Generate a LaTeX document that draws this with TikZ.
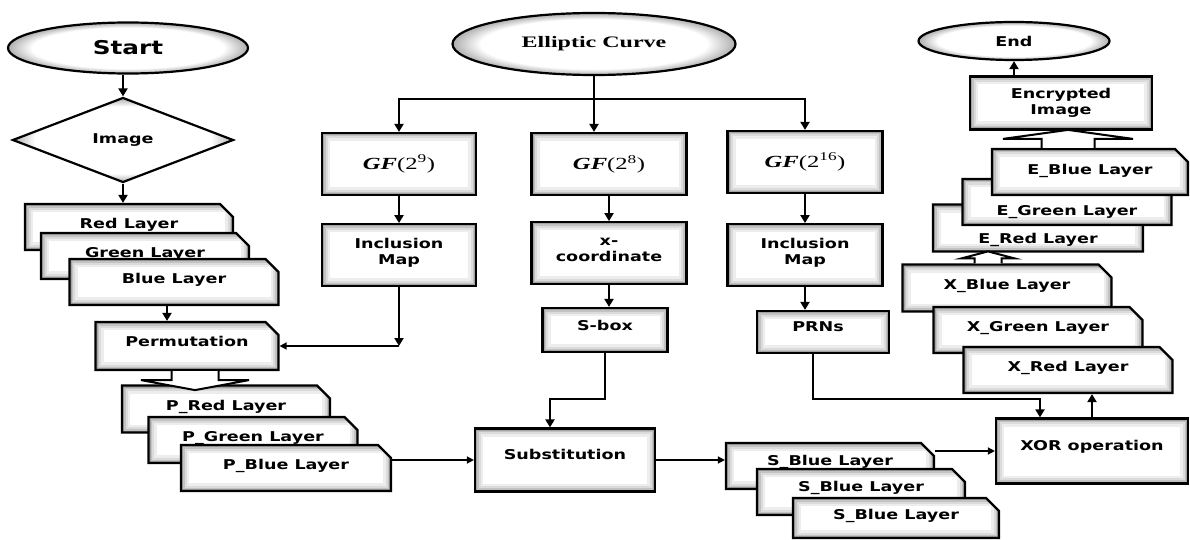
\documentclass[tikz,border=0pt]{standalone}
\usepackage{fontspec}
\usepackage{tikz}
\usetikzlibrary{positioning,arrows.meta,shapes.geometric,shapes.misc}
\newfontfamily\boxfont[FakeStretch=1.3]{DejaVu Sans}
\newfontfamily\ecfont[FakeStretch=1.5]{Liberation Serif}
\newfontfamily\gffont[FakeStretch=1.45]{Liberation Serif}
\newcommand{\gflabel}[1]{{\gffont\mdseries\fontsize{17}{20}\selectfont\textbf{\textit{GF}}(2\textsuperscript{#1})}}
\pgfdeclareradialshading{glow}{\pgfpointorigin}{color(0bp)=(white); color(20bp)=(white); color(25bp)=(black!32); color(50bp)=(black!32)}

\begin{document}
\begin{tikzpicture}[x=1pt, y=-1pt,
    every node/.style={font=\boxfont\bfseries\fontsize{13.5}{16}\selectfont},
    box/.style={draw, line width=2.2pt, fill=white, align=center, inner sep=2pt,
      path picture={
        \foreach \w/\c in {16/7, 11/14, 7/24, 4/36}
          \draw[line width=\w pt, black!\c] (path picture bounding box.south west) rectangle (path picture bounding box.north east);
      }},
    oval/.style={draw, line width=2.2pt, shade, shading=glow, ellipse, inner sep=2pt},
    layer/.style={box, chamfered rectangle, chamfered rectangle corners=north east, chamfered rectangle xsep=7pt, chamfered rectangle ysep=6pt, minimum width=208pt, minimum height=46pt, text depth=8pt},
    gf/.style={box, minimum width=154pt, minimum height=62pt},
    arr/.style={-{Triangle[length=8pt,width=9pt]}, line width=2.5pt},
    thin/.style={-{Triangle[length=7pt,width=7pt]}, line width=1.5pt},
    hollow/.style={draw, fill=white, line width=2pt, line join=miter}
  ]
    \useasboundingbox (0,0) rectangle (1190,540);

    % input side
    \node[oval, minimum width=240pt, minimum height=51pt, font=\boxfont\bfseries\fontsize{19}{22}\selectfont] (start) at (128,48) {Start};
    \node[draw, line width=2.2pt, shade, shading=glow, diamond, aspect=2.6, minimum width=221pt, minimum height=85pt, inner sep=0pt] (image) at (123,140) {Image};

    \node[layer] (red) at (129,227) {Red Layer};
    \node[layer] (green) at (145,256) {Green Layer};
    \node[layer, minimum width=209pt] (blue) at (174,282) {Blue Layer};
    \node[layer, minimum width=183pt, minimum height=48pt, text depth=10pt] (perm) at (187,346) {Permutation};

    \node[layer, minimum height=47pt] (pred) at (226,409) {P\_Red Layer};
    \node[layer, minimum width=209pt] (pgreen) at (253,440) {P\_Green Layer};
    \node[layer, minimum width=210pt] (pblue) at (286,468) {P\_Blue Layer};

    % elliptic curve branch
    \node[oval, minimum width=283pt, minimum height=62pt, font=\ecfont\bfseries\fontsize{16}{19}\selectfont] (ec) at (594,44) {Elliptic Curve};
    \node[gf] (gf9) at (399,164) {\gflabel{9}};
    \node[gf, text depth=7pt, below=27pt of gf9] (incl1) {Inclusion\\Map};
    \node[gf, minimum width=155pt] (gf8) at (609,164) {\gflabel{8}};
    \node[gf, text depth=7pt, minimum width=155pt, below=25pt of gf8] (xco) {x-\\coordinate};
    \node[gf, minimum width=155pt] (gf16) at (805,162) {\gflabel{16}};
    \node[gf, text depth=7pt, minimum width=155pt, below=29pt of gf16] (incl2) {Inclusion\\Map};

    \node[box, minimum width=125pt, minimum height=44pt, text depth=10pt] (sbox) at (605,330) {S-box};
    \node[box, minimum width=132pt, minimum height=42pt, text depth=10pt] (prn) at (823,332) {\hspace*{-10pt}PRNs};
    \node[box, minimum width=180pt, minimum height=63pt, text depth=12pt] (subst) at (565,460) {Substitution};

    \node[layer, text depth=12pt] (sb1) at (830,466) {S\_Blue Layer};
    \node[layer, text depth=11pt] (sb2) at (861,492) {S\_Blue Layer};
    \node[layer, minimum width=206pt, minimum height=40pt] (sb3) at (896,518) {S\_Blue Layer};

    \node[box, minimum width=192pt, minimum height=65pt, text depth=12pt] (xor) at (1092,451) {XOR operation};

    % output side
    \node[layer, minimum width=209pt, minimum height=47pt] (xblue) at (1007,288) {X\_Blue Layer};
    \node[layer, minimum width=209pt] (xgreen) at (1038,330) {X\_Green Layer};
    \node[layer, minimum width=209pt] (xred) at (1068,370) {X\_Red Layer};

    \node[layer, minimum width=210pt, minimum height=47pt, text height=30pt, text depth=0pt] (ered) at (1038,228) {E\_Red Layer};
    \node[layer, minimum width=209pt, text height=26pt, text depth=0pt] (egreen) at (1067,202) {E\_Green Layer};
    \node[layer, minimum width=196pt, text depth=6pt] (eblue) at (1090,172) {E\_Blue Layer};

    \node[box, minimum width=182pt, minimum height=53pt] (enc) at (1061,103) {Encrypted\\Image};
    \node[oval, minimum width=191pt, minimum height=38pt] (end) at (1014,41) {End};

    % connectors
    \draw[arr] (image.north |- start.south) -- (image.north);
    \draw[arr] (image.south) -- (image.south |- red.north);
    \draw[arr] ([xshift=-7pt]blue.south) -- ([xshift=-7pt]blue.south |- perm.north);

    \draw[line width=2.5pt] (ec.south) -- ++(0,23) coordinate (j);
    \draw[arr] (j) -| (gf9.north);
    \draw[arr] (j) -- (j |- gf8.north);
    \draw[arr] (j) -| (gf16.north);
    \draw[arr] (gf9) -- (incl1);
    \draw[arr] (gf8) -- (xco);
    \draw[arr] (gf16) -- (incl2);
    \draw[arr] (xco.south) -- (xco.south |- sbox.north);
    \draw[arr] (incl2.south) -- (incl2.south |- prn.north);

    \coordinate (c1) at (incl1.south |- perm.east);
    \draw[arr] (incl1.south) -- (c1);
    \draw[thin] (c1) -- (perm.east);

    \draw[arr] (sbox.south) -- ++(0,46) -| ([xshift=-15pt]subst.north);
    \draw[arr] ([xshift=-10pt]prn.south) -- ++(0,45) -| ([xshift=-52pt]xor.north);

    \draw[thin] (subst.west -| pblue.east) -- (subst.west);
    \draw[thin] (subst.east) -- (subst.east -| sb1.west);
    \draw[thin] (xor.west -| sb1.east) -- (xor.west);
    \draw[arr] (xor.north) -- (xor.north |- xred.south);
    \draw[arr] (end.south |- enc.north) -- (end.south);

    % block arrows
    \draw[hollow, shift={([xshift=8pt]perm.south)}] (-23.5,0) -- (-23.5,9) -- (-54,9) -- (0,19) -- (54,9) -- (23.5,9) -- (23.5,0);
    \draw[hollow, shift={([xshift=-19pt]xblue.north)}] (-13.5,0) -- (-13.5,-5) -- (-26.5,-5) -- (0,-12) -- (26.5,-5) -- (13.5,-5) -- (13.5,0);
    \draw[hollow, shift={([xshift=-22pt]eblue.north)}] (-26.5,0) -- (-26.5,-9) -- (-65,-9) -- (0,-18) -- (65,-9) -- (26.5,-9) -- (26.5,0);
\end{tikzpicture}
\end{document}
